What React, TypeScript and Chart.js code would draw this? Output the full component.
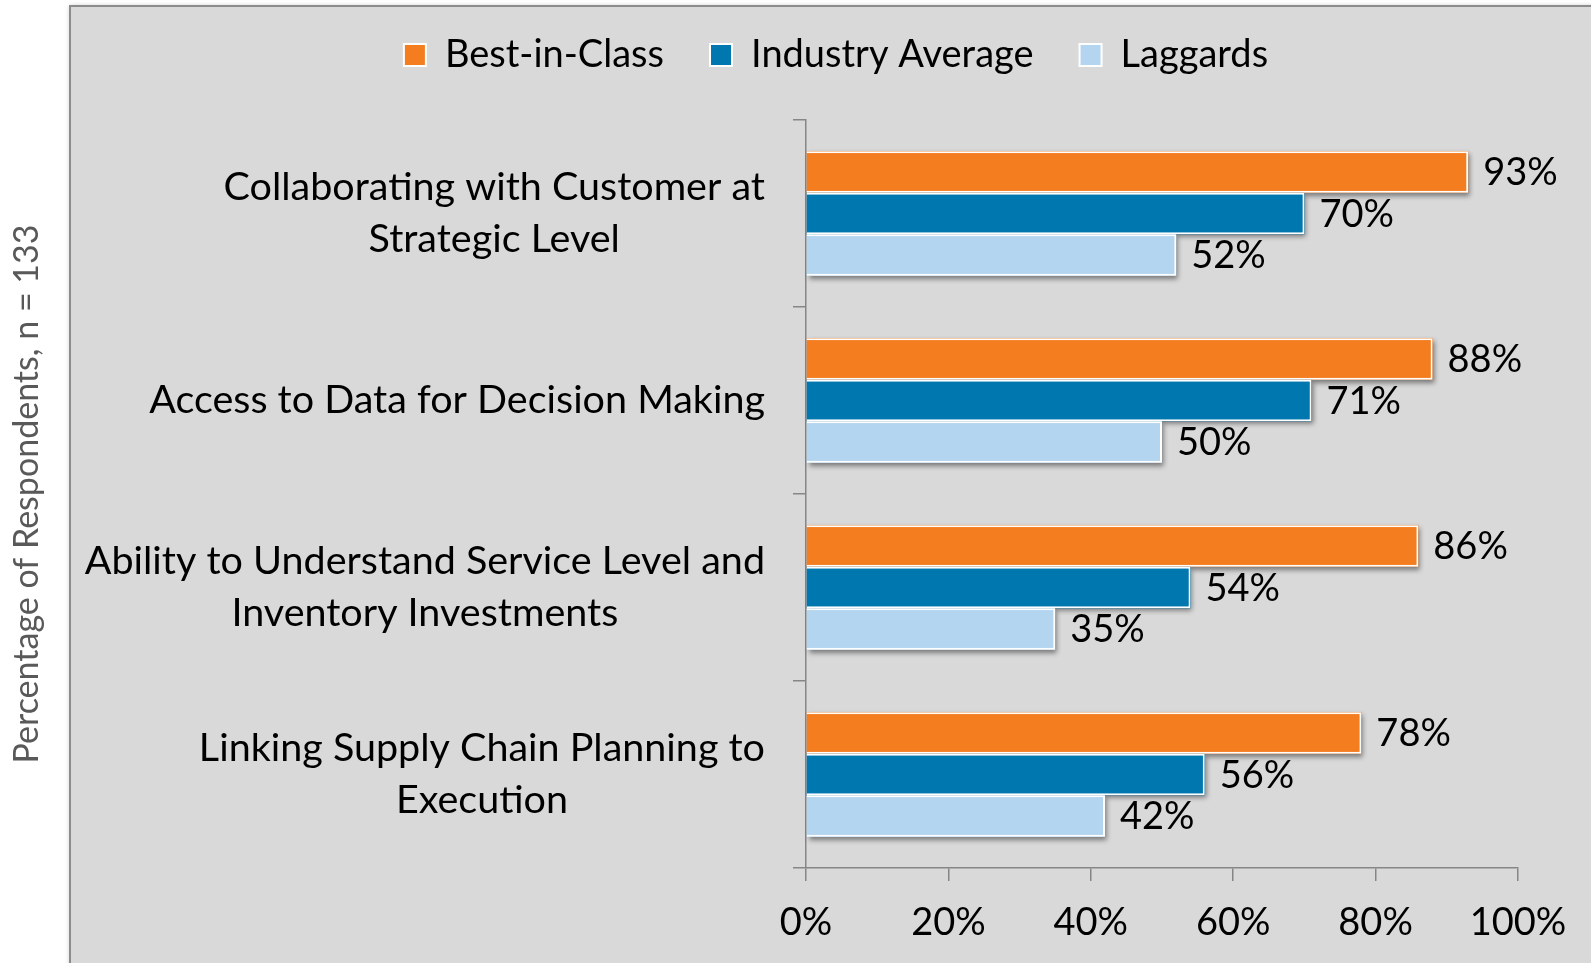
import React, { useEffect, useRef } from "react";
import { Chart, registerables } from "chart.js";

Chart.register(...registerables);

// ---- Data ----
const categories: string[][] = [
  ["Collaborating with Customer at", "Strategic Level"],
  ["Access to Data for Decision Making"],
  ["Ability to Understand Service Level and", "Inventory Investments"],
  ["Linking Supply Chain Planning to", "Execution"],
];
const seriesNames = ["Best-in-Class", "Industry Average", "Laggards"];
const bestInClass = [93, 88, 86, 78];
const industryAverage = [70, 71, 54, 56];
const laggards = [52, 50, 35, 42];
const xTickValues = [0, 20, 40, 60, 80, 100];
const yAxisTitle = "Percentage of Respondents, n = 133";

// ---- Styles ----
const seriesColors = ["#F47D20", "#0077AF", "#B3D5EF"];
const FONT = "Lato";
const W = 1591;
const H = 963;

const panelPlugin = {
  id: "panelBg",
  beforeDraw(chart: any) {
    const ctx = chart.ctx;
    ctx.save();
    ctx.fillStyle = "#FFFFFF";
    ctx.fillRect(0, 0, W, H);
    ctx.shadowColor = "rgba(0,0,0,0.25)";
    ctx.shadowBlur = 5;
    ctx.fillStyle = "#D9D9D9";
    ctx.fillRect(70, 6, W - 70 + 10, H);
    ctx.shadowColor = "transparent";
    ctx.strokeStyle = "#8C8C8C";
    ctx.lineWidth = 2;
    ctx.strokeRect(70, 6, W, H + 10);
    ctx.restore();
  },
};

const legendFitPlugin = {
  id: "legendFit",
  beforeInit(chart: any) {
    const legend = chart.legend;
    if (!legend) return;
    const orig = legend.fit;
    legend.fit = function () {
      orig.call(legend);
      legend.height = 130;
    };
  },
};

const shadowPlugin = {
  id: "barShadows",
  beforeDatasetsDraw(chart: any) {
    const ctx = chart.ctx;
    ctx.save();
    ctx.shadowColor = "rgba(0,0,0,0.45)";
    ctx.shadowBlur = 5;
    ctx.shadowOffsetX = 2;
    ctx.shadowOffsetY = 3;
    chart.data.datasets.forEach((ds: any, di: number) => {
      const meta = chart.getDatasetMeta(di);
      ctx.fillStyle = ds.backgroundColor;
      meta.data.forEach((el: any) => {
        const h = el.height;
        ctx.fillRect(el.base, el.y - h / 2, el.x - el.base, h);
      });
    });
    ctx.restore();
  },
};

const labelsPlugin = {
  id: "valueLabels",
  afterDatasetsDraw(chart: any) {
    const ctx = chart.ctx;
    ctx.save();
    ctx.font = `38px ${FONT}`;
    ctx.fillStyle = "#000000";
    ctx.textAlign = "left";
    ctx.textBaseline = "middle";
    chart.data.datasets.forEach((ds: any, di: number) => {
      const meta = chart.getDatasetMeta(di);
      meta.data.forEach((el: any, i: number) => {
        ctx.fillText(`${ds.data[i]}%`, el.x + 15, el.y + 1);
      });
    });
    ctx.restore();
  },
};

const yLabelsPlugin = {
  id: "yCategoryLabels",
  afterDraw(chart: any) {
    const ctx = chart.ctx;
    const scale = chart.scales.y;
    const rightEdge = chart.chartArea.left - 41;
    const lh = 52;
    ctx.save();
    ctx.font = `39.5px ${FONT}`;
    ctx.fillStyle = "#000000";
    ctx.textAlign = "center";
    ctx.textBaseline = "middle";
    categories.forEach((lines, i) => {
      const y = scale.getPixelForTick(i);
      const maxW = Math.max(...lines.map((l) => ctx.measureText(l).width));
      const cx = rightEdge - maxW / 2;
      const top = y - (lines.length * lh) / 2;
      lines.forEach((l, j) => {
        ctx.fillText(l, cx, top + lh * j + lh / 2);
      });
    });
    ctx.restore();
  },
};

export default function App() {
  const ref = useRef<HTMLCanvasElement | null>(null);

  useEffect(() => {
    if (!ref.current) return;
    const data = [bestInClass, industryAverage, laggards];
    const chart = new Chart(ref.current, {
      type: "bar",
      data: {
        labels: categories.map((c) => c.join(" ")),
        datasets: seriesNames.map((name, i) => ({
          label: name,
          data: data[i],
          backgroundColor: seriesColors[i],
          borderColor: "#FFFFFF",
          borderWidth: 2,
          categoryPercentage: 0.667,
          barPercentage: 1,
        })),
      },
      options: {
        indexAxis: "y",
        responsive: false,
        animation: false,
        devicePixelRatio: 1,
        layout: { padding: { top: -10, left: 154, right: 73, bottom: 0 } },
        plugins: {
          tooltip: { enabled: false },
          legend: {
            display: true,
            position: "top",
            labels: {
              boxWidth: 22,
              boxHeight: 22,
              padding: 46,
              color: "#000000",
              font: { family: FONT, size: 38 },
            },
          },
        },
        scales: {
          x: {
            type: "linear",
            min: 0,
            max: 100,
            afterBuildTicks(scale: any) {
              scale.ticks = xTickValues.map((v) => ({ value: v }));
            },
            afterFit(scale: any) {
              scale.height = 95;
            },
            ticks: {
              callback: (v: any) => `${v}%`,
              color: "#000000",
              font: { family: FONT, size: 38 },
              padding: 19,
              maxRotation: 0,
            },
            grid: {
              drawOnChartArea: false,
              drawTicks: true,
              tickLength: 13,
              color: "#868686",
              lineWidth: 1.5,
            },
            border: { display: true, color: "#868686", width: 1.5 },
          },
          y: {
            type: "category",
            afterFit(scale: any) {
              scale.width = 806 - 154;
            },
            ticks: { display: false },
            grid: {
              offset: true,
              drawOnChartArea: false,
              drawTicks: true,
              tickLength: 13,
              color: "#868686",
              lineWidth: 1.5,
            },
            border: { display: true, color: "#868686", width: 1.5 },
            title: {
              display: true,
              text: yAxisTitle,
              color: "#595959",
              font: { family: FONT, size: 34 },
              padding: { top: -147, bottom: 0 },
            },
          },
        },
      },
      plugins: [panelPlugin, legendFitPlugin, shadowPlugin, labelsPlugin, yLabelsPlugin],
    } as any);
    return () => chart.destroy();
  }, []);

  return (
    <div style={{ position: "fixed", left: 0, top: 0, width: W, height: H }}>
      <canvas ref={ref} width={W} height={H} style={{ width: W, height: H, display: "block" }} />
    </div>
  );
}
